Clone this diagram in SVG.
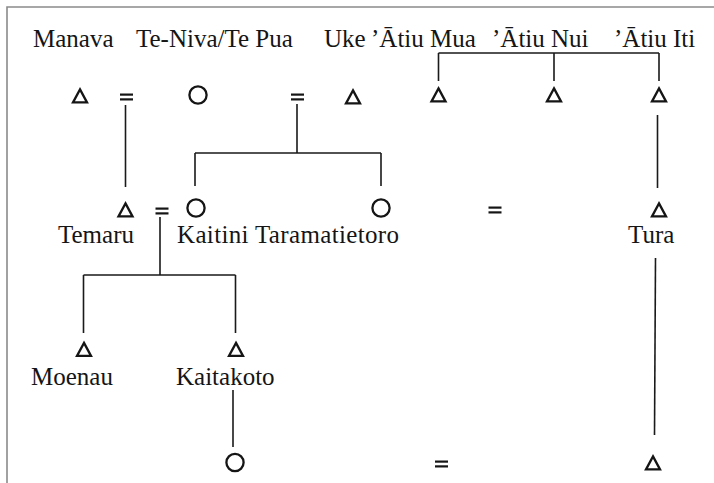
<svg xmlns="http://www.w3.org/2000/svg" xmlns:xlink="http://www.w3.org/1999/xlink" width="714" height="483" viewBox="0 0 714 483">
  <style>
    .name { font-family: "Liberation Serif", "Times New Roman", serif; font-size: 25px; fill: #151515; }
    .link { stroke: #1a1a1a; stroke-width: 1.6; fill: none; }
    .frame { stroke: #8a8a8a; stroke-width: 1.6; fill: none; }
    .sym { stroke: #151515; stroke-width: 2.3; fill: none; stroke-linejoin: miter; }
    .eq { stroke: #151515; stroke-width: 2.2; }
  </style>
  <defs>
    <!-- kinship symbols, centred on the origin -->
    <path id="male" class="sym" d="M0,-6.6 L7,6.4 L-7,6.4 Z"/>
    <circle id="female" class="sym" r="8.6"/>
    <g id="marriage" class="eq">
      <line x1="-6.5" y1="-2.4" x2="6.5" y2="-2.4"/>
      <line x1="-6.5" y1="2.4" x2="6.5" y2="2.4"/>
    </g>
  </defs>

  <rect width="714" height="483" fill="#ffffff"/>
  <path class="frame" d="M7,483 L7,7 L714,7"/>

  <!-- descent and sibling lines -->
  <g id="connectors" class="link">
    <path d="M125.5,105 V187"/>
    <path d="M297,104 V153 M195,153 H381 M195,153 V186 M381,153 V186"/>
    <path d="M438.5,53 H659 M438.5,53 V81 M554,53 V81 M659,53 V81"/>
    <path d="M657.5,115 V188"/>
    <path d="M160,217 V275 M83.5,275 H235.5 M83.5,275 V333 M235.5,275 V333"/>
    <path d="M233,390 V447"/>
    <path d="M655.5,258 L654.5,435"/>
  </g>

  <!-- first generation -->
  <g id="manava">
    <text class="name" x="33" y="47">Manava</text>
    <use xlink:href="#male" x="80" y="96"/>
  </g>
  <g id="marriage-manava"><use xlink:href="#marriage" x="126.5" y="97"/></g>
  <g id="teniva">
    <text class="name" x="136" y="47">Te-Niva/Te Pua</text>
    <use xlink:href="#female" x="198" y="95"/>
  </g>
  <g id="marriage-uke"><use xlink:href="#marriage" x="297.5" y="97"/></g>
  <g id="uke">
    <text class="name" x="324" y="47">Uke</text>
    <use xlink:href="#male" x="353" y="97"/>
  </g>
  <g id="atiu-mua">
    <text class="name" x="371" y="47">’Ātiu Mua</text>
    <use xlink:href="#male" x="438.5" y="95"/>
  </g>
  <g id="atiu-nui">
    <text class="name" x="492" y="47">’Ātiu Nui</text>
    <use xlink:href="#male" x="554" y="95"/>
  </g>
  <g id="atiu-iti">
    <text class="name" x="614" y="47">’Ātiu Iti</text>
    <use xlink:href="#male" x="659" y="95"/>
  </g>

  <!-- second generation -->
  <g id="temaru">
    <use xlink:href="#male" x="125.5" y="210"/>
    <text class="name" x="58" y="243">Temaru</text>
  </g>
  <g id="marriage-temaru"><use xlink:href="#marriage" x="162" y="211"/></g>
  <g id="kaitini">
    <use xlink:href="#female" x="196" y="208"/>
    <text class="name" x="177" y="243" textLength="222" lengthAdjust="spacing">Kaitini Taramatietoro</text>
  </g>
  <g id="taramatietoro">
    <use xlink:href="#female" x="381" y="208"/>
  </g>
  <g id="marriage-tura"><use xlink:href="#marriage" x="495" y="210"/></g>
  <g id="tura">
    <use xlink:href="#male" x="659" y="210"/>
    <text class="name" x="628" y="243">Tura</text>
  </g>

  <!-- third generation -->
  <g id="moenau">
    <use xlink:href="#male" x="84" y="349.5"/>
    <text class="name" x="31" y="385">Moenau</text>
  </g>
  <g id="kaitakoto">
    <use xlink:href="#male" x="236" y="349.5"/>
    <text class="name" x="176" y="385">Kaitakoto</text>
  </g>

  <!-- fourth generation -->
  <g id="daughter">
    <use xlink:href="#female" x="235" y="462.5"/>
  </g>
  <g id="marriage-bottom"><use xlink:href="#marriage" x="441.5" y="464"/></g>
  <g id="son">
    <use xlink:href="#male" x="653" y="463"/>
  </g>
</svg>
